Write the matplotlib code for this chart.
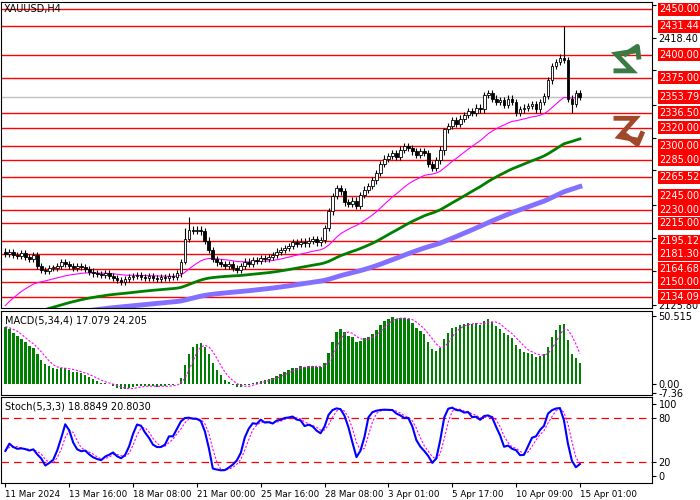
import numpy as np
import matplotlib.pyplot as plt
from matplotlib.patches import Rectangle

closes = [2181, 2183, 2180, 2179, 2182, 2178, 2176, 2180, 2168, 2164,
          2163, 2166, 2166, 2168, 2172, 2170, 2168, 2166, 2168, 2167,
          2165, 2162, 2160, 2159, 2158, 2160, 2157, 2155, 2153, 2151,
          2154, 2156, 2157, 2158, 2156, 2155, 2157, 2155, 2154, 2156,
          2155, 2157, 2156, 2160, 2172, 2198, 2208, 2207, 2208, 2206,
          2196, 2186, 2176, 2172, 2170, 2168, 2170, 2166, 2164, 2168,
          2173, 2170, 2175, 2174, 2177, 2176, 2178, 2180, 2184, 2186,
          2188, 2190, 2194, 2192, 2195, 2193, 2196, 2198, 2194, 2197,
          2210, 2228, 2245, 2254, 2250, 2238, 2236, 2240, 2234, 2246,
          2252, 2256, 2262, 2270, 2280, 2286, 2289, 2292, 2288, 2296,
          2300, 2298, 2294, 2290, 2294, 2292, 2280, 2276, 2284, 2296,
          2318, 2322, 2328, 2324, 2330, 2334, 2338, 2336, 2342, 2340,
          2356, 2358, 2352, 2348, 2350, 2345, 2352, 2348, 2336, 2340,
          2342, 2344, 2346, 2340, 2348, 2355, 2372, 2388, 2392, 2397,
          2394, 2352, 2346, 2358, 2353.79]
first_open = 2184
wick = 3.5
# a few candles with long wicks: index -> (high, low)
spikes = {46: (2222, None), 45: (2210, 2170), 140: (2431.44, None), 142: (None, 2336.5),
          81: (2232, None), 110: (2320, 2290)}

levels = [2450.00, 2431.44, 2400.00, 2375.00, 2353.79, 2336.50, 2320.00, 2300.00, 2285.00,
          2265.52, 2245.00, 2230.00, 2215.00, 2195.12, 2181.30, 2164.68, 2150.00, 2134.09]
grey_ticks = [2125.80, 2162.70, 2199.40, 2234.70, 2273.10, 2308.40, 2344.70, 2383.10, 2418.40, 2454.70]
date_labels = ['11 Mar 2024', '13 Mar 16:00', '18 Mar 08:00', '21 Mar 00:00', '25 Mar 16:00',
               '28 Mar 08:00', '3 Apr 01:00', '5 Apr 17:00', '10 Apr 09:00', '15 Apr 01:00']

# indicator seeds (values before the first visible bar)
ema_seeds = {25: 2120, 70: 2100, 140: 2100}
macd_seeds = (2181, 2136)

c = np.array(closes, float)
o = np.concatenate([[first_open], c[:-1]])
h = np.maximum(o, c) + wick
l = np.minimum(o, c) - wick
for k, (hh, ll) in spikes.items():
    if hh: h[k] = hh
    if ll: l[k] = ll
n = len(c)
x = np.arange(n)


def ema(src, period, seed):
    a = 2 / (period + 1)
    out = np.empty(len(src))
    v = seed
    for i, s in enumerate(src):
        v = v + a * (s - v)
        out[i] = v
    return out


def sma(src, p):
    out = np.empty(len(src))
    for i in range(len(src)):
        out[i] = np.mean(src[max(0, i - p + 1):i + 1])
    return out


macd = ema(c, 5, macd_seeds[0]) - ema(c, 34, macd_seeds[1])
signal = sma(macd, 4)

hh5 = np.array([h[max(0, i - 4):i + 1].max() for i in range(n)])
ll5 = np.array([l[max(0, i - 4):i + 1].min() for i in range(n)])
k_line = 100 * sma(c - ll5, 3) / sma(hh5 - ll5, 3)
d_line = sma(k_line, 3)

fig = plt.figure(figsize=(7, 5), dpi=100)
fs = 7
ax = fig.add_axes([0.002, 0.384, 0.929, 0.612])
ax2 = fig.add_axes([0.002, 0.21, 0.929, 0.168])
ax3 = fig.add_axes([0.002, 0.034, 0.929, 0.172])

for a in (ax, ax2, ax3):
    a.set_xlim(-1, 162)
    a.yaxis.tick_right()
    a.tick_params(axis='y', labelsize=fs, length=3, pad=2)
    for s in a.spines.values():
        s.set_linewidth(0.8)

# main chart
ax.set_ylim(2122, 2458)
for lv in levels:
    ax.axhline(lv, color='#c0c0c0' if lv == 2353.79 else 'red', lw=1)
ax.plot(x, ema(c, 140, ema_seeds[140]), color='#8470ff', lw=3.5)
ax.plot(x, ema(c, 70, ema_seeds[70]), color='green', lw=2)
ax.plot(x, ema(c, 25, ema_seeds[25]), color='magenta', lw=0.8)
for i in range(n):
    ax.vlines(x[i], l[i], h[i], color='black', lw=0.8)
    bot = min(o[i], c[i])
    ht = max(abs(c[i] - o[i]), 0.5)
    ax.add_patch(Rectangle((x[i] - 0.35, bot), 0.7, ht, facecolor='white' if c[i] >= o[i] else 'black',
                           edgecolor='black', lw=0.6, zorder=3))
ax.set_yticks(grey_ticks)
ax.set_yticklabels(['%.2f' % t if t in (2418.40, 2125.80) else '' for t in grey_ticks])
for lv in levels:
    ax.text(1.012, lv, '%.2f' % lv, transform=ax.get_yaxis_transform(), color='white', fontsize=fs,
            va='center', ha='left', bbox=dict(facecolor='red', edgecolor='none', pad=1.2), clip_on=False)
ax.text(0.003, 0.995, 'XAUUSD,H4', transform=ax.transAxes, fontsize=fs, va='top')
ax.set_xticks([])

# zigzag arrows
ax.plot([0.945, 0.97, 0.945, 0.975], [0.775, 0.775, 0.83, 0.84], transform=ax.transAxes,
        color='#3a7a45', lw=3.5, solid_joinstyle='miter')
ax.plot([0.96, 0.978, 0.98], [0.83, 0.855, 0.82], transform=ax.transAxes, color='#3a7a45', lw=3.5)
ax.plot([0.945, 0.975, 0.95, 0.975], [0.62, 0.62, 0.56, 0.55], transform=ax.transAxes,
        color='#a0482a', lw=3.5, solid_joinstyle='miter')
ax.plot([0.96, 0.978, 0.985], [0.565, 0.535, 0.57], transform=ax.transAxes, color='#a0482a', lw=3.5)

# MACD
ax2.set_ylim(-8.5, 54)
ax2.bar(x, macd, width=0.6, color='green')
ax2.plot(x, signal, color='magenta', lw=0.8, ls=(0, (2, 1.5)))
ax2.set_yticks([50.515, 0, -7.36])
ax2.set_yticklabels(['50.515', '0.00', '-7.36'])
ax2.text(0.005, 0.95, 'MACD(5,34,4) %.3f %.3f' % (17.079, 24.205), transform=ax2.transAxes, fontsize=fs, va='top')
ax2.set_xticks([])

# Stochastic
ax3.set_ylim(-9, 109)
ax3.axhline(80, color='red', lw=0.9, ls=(0, (6, 4)))
ax3.axhline(20, color='red', lw=0.9, ls=(0, (6, 4)))
ax3.plot(x, d_line, color='magenta', lw=0.8, ls=(0, (2, 1.5)))
ax3.plot(x, k_line, color='blue', lw=1.5)
ax3.set_yticks([100, 80, 20, 0])
ax3.text(0.005, 0.95, 'Stoch(5,3,3) 18.8849 20.8030', transform=ax3.transAxes, fontsize=fs, va='top')
ax3.set_xticks(np.arange(0, 145, 16))
ax3.set_xticklabels(date_labels, fontsize=6.3, ha='left')
ax3.tick_params(axis='x', length=3, pad=2)

fig.savefig('out.png', dpi=100)
